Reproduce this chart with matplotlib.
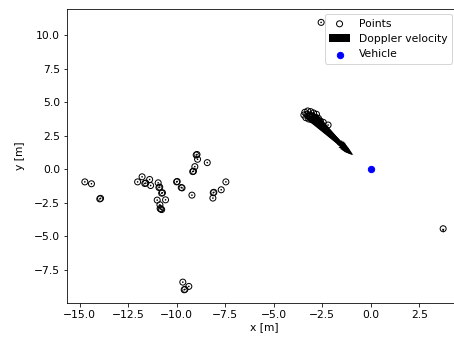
import matplotlib
matplotlib.use("Agg")
import matplotlib.pyplot as plt
import numpy as np

# Radar detections: positions [m] and Doppler velocity components [m/s]
point_x = [-14.74, -14.40, -13.97, -13.93,
           -12.02, -11.79, -11.65, -11.60, -11.40, -11.35, -10.96, -10.92, -10.88,
           -10.78, -10.74, -11.01, -10.58, -10.87, -10.82, -10.78, -10.86,
           -10.01, -9.98, -9.77, -9.73, -9.22,
           -9.00, -8.96, -8.93, -9.07, -9.18, -9.14, -8.43,
           -8.12, -8.09, -8.14, -7.71, -7.47,
           -9.69, -9.38, -9.62, -9.58,
           -2.56, 3.73,
           -3.40, -3.25, -3.10, -2.95, -2.80,
           -3.45, -3.30, -3.15, -3.00, -2.85, -2.70,
           -3.35, -3.20, -3.05, -2.90, -2.75, -2.60,
           -2.45, -2.20]
point_y = [-0.95, -1.09, -2.22, -2.18,
           -0.95, -0.57, -1.07, -1.04, -0.77, -1.22, -1.02, -1.37, -1.34,
           -1.79, -1.76, -2.31, -2.29, -2.66, -2.98, -3.02, -2.94,
           -0.95, -0.92, -1.37, -1.40, -1.94,
           1.06, 1.10, 0.74, 0.19, -0.18, -0.15, 0.49,
           -1.76, -1.73, -2.16, -1.54, -0.95,
           -8.44, -8.76, -9.01, -8.98,
           10.97, -4.45,
           4.25, 4.35, 4.30, 4.20, 4.10,
           4.05, 4.10, 4.00, 3.95, 3.85, 3.80,
           3.85, 3.75, 3.70, 3.60, 3.50, 3.60,
           3.50, 3.30]
vel_x = [0.0] * 43 + [0.0,
         2.40, 2.15, 1.95, 1.75, 1.50,
         2.55, 2.25, 2.07, 1.85, 1.63, 1.40,
         2.40, 2.20, 1.97, 1.75, 1.50, 1.25,
         0.0, 0.0]
vel_y = [0.0] * 43 + [-0.30,
         -3.03, -2.97, -2.88, -2.72, -2.55,
         -2.99, -2.85, -2.78, -2.63, -2.45, -2.30,
         -2.80, -2.65, -2.55, -2.40, -2.20, -2.12,
         0.0, 0.0]

vehicle_x = [0.0]
vehicle_y = [0.0]

plt.rcParams["font.size"] = 10.7

fig = plt.figure(figsize=(454 / 72, 338 / 72), dpi=72)
ax = fig.add_axes([67 / 454, 35 / 338, (461 - 67) / 454, (303 - 9) / 338])

ax.scatter(point_x, point_y, s=36, facecolors="none", edgecolors="black",
           linewidths=1.0, label="Points", zorder=2)
ax.quiver(point_x, point_y, vel_x, vel_y, angles="xy", scale_units="xy",
          scale=1, width=0.0045, color="black", label="Doppler velocity",
          zorder=3)
ax.scatter(vehicle_x, vehicle_y, s=40, color="blue", label="Vehicle", zorder=4)

ax.set_xlim(-15.66, 4.65)
ax.set_ylim(-10.0, 11.97)
ax.set_xticks(np.arange(-15, 2.6, 2.5))
ax.set_yticks(np.arange(-7.5, 10.1, 2.5))
ax.set_xlabel("x [m]", labelpad=2)
ax.set_ylabel("y [m]", labelpad=9)
ax.legend(loc="upper right", bbox_to_anchor=(0.99, 1.0))

fig.savefig("out.png", dpi=72)
